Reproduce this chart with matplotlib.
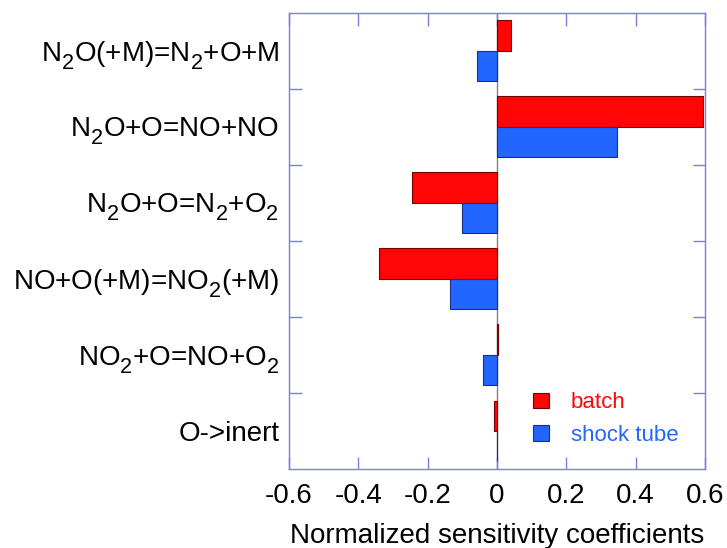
import matplotlib
matplotlib.use("Agg")
import matplotlib.pyplot as plt
from matplotlib.patches import Patch
import numpy as np

plt.rcParams['font.family'] = ['Liberation Sans', 'DejaVu Sans']
plt.rcParams['mathtext.fontset'] = 'custom'
plt.rcParams['mathtext.rm'] = 'Liberation Sans'
plt.rcParams['mathtext.it'] = 'Liberation Sans:italic'
plt.rcParams['mathtext.bf'] = 'Liberation Sans:bold'

# deeper, slightly larger subscripts as in the reference
try:
    import matplotlib._mathtext as _mt
    _mt.FontConstantsBase.sub1 = 0.55
    _mt.SHRINK_FACTOR = 0.78
except Exception:
    pass

reactions = [
    r'N$_2$O(+M)=N$_2$+O+M',
    r'N$_2$O+O=NO+NO',
    r'N$_2$O+O=N$_2$+O$_2$',
    r'NO+O(+M)=NO$_2$(+M)',
    r'NO$_2$+O=NO+O$_2$',
    'O->inert',
]
batch = [0.040, 0.594, -0.246, -0.339, 0.003, -0.009]
shock_tube = [-0.059, 0.345, -0.102, -0.137, -0.039, 0.0]
xticks = [-0.6, -0.4, -0.2, 0, 0.2, 0.4, 0.6]
xticklabels = ['-0.6', '-0.4', '-0.2', '0', '0.2', '0.4', '0.6']

red = '#ff0606'
blue = '#2266ff'
spine_c = '#7b7bea'

fig = plt.figure(figsize=(7.27, 5.48), dpi=100)
ax = fig.add_axes([289/727, 1-469/548, (705-289)/727, (469-12.5)/548])

y = np.arange(len(reactions))
h = 0.4
ax.axvline(0, color='#808080', lw=1, zorder=1)
ax.barh(y - h/2, batch, height=h, color=red, edgecolor='#7a0000', linewidth=0.8, zorder=2)
ax.barh(y + h/2, shock_tube, height=h, color=blue, edgecolor='#1a2f80', linewidth=0.8, zorder=2)

ax.set_xlim(-0.6, 0.6)
ax.set_ylim(len(reactions) - 0.5, -0.5)

ax.set_xticks(xticks)
ax.set_xticklabels(xticklabels, fontsize=20)
ax.set_yticks(np.arange(len(reactions) - 1) + 0.5)
ax.set_yticklabels([])
ax.set_yticks(y, minor=True)
ax.set_yticklabels(reactions, minor=True, fontsize=20)

ax.tick_params(axis='x', which='major', direction='in', length=9, width=1,
               color=spine_c, top=True, bottom=True, pad=10)
ax.tick_params(axis='y', which='major', direction='in', length=9, width=1,
               color=spine_c, left=True, right=True)
ax.tick_params(axis='y', which='minor', length=0, pad=7)

for s in ax.spines.values():
    s.set_color(spine_c)
    s.set_linewidth(1)

ax.set_xlabel('Normalized sensitivity coefficients', fontsize=20, labelpad=10)

handles = [Patch(facecolor=red, edgecolor='#7a0000', linewidth=0.8),
           Patch(facecolor=blue, edgecolor='#1a2f80', linewidth=0.8)]
leg = ax.legend(handles, ['batch', 'shock tube'], loc='center left',
                bbox_to_anchor=((533-289)/416, (469-419)/456.5),
                frameon=False, fontsize=16, handlelength=0.7, handleheight=0.7,
                handletextpad=1.0, labelspacing=0.5, borderpad=0, borderaxespad=0)
for t, c in zip(leg.get_texts(), [red, blue]):
    t.set_color(c)

fig.savefig('out.png', dpi=100)
